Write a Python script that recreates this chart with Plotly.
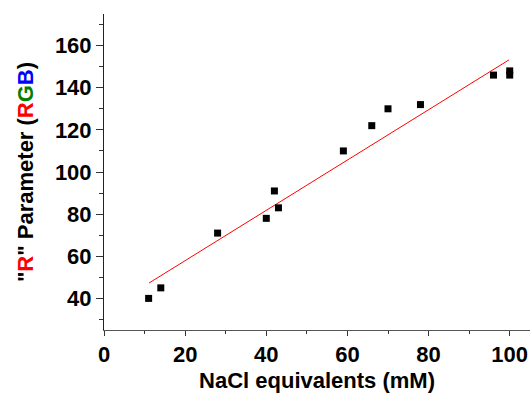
import plotly.graph_objects as go

nacl_mM = [11, 14, 28, 40, 42, 43, 59, 66, 70, 78, 96, 100, 100]
r_param = [40, 45, 71, 78, 91, 83, 110, 122, 130, 132, 146, 148, 146]

fit_x = [11.1, 99.8]
fit_y = [47.3, 153.2]

x_ticks = [0, 20, 40, 60, 80, 100]
y_ticks = [40, 60, 80, 100, 120, 140, 160]

font_family = "Liberation Sans, Arial, sans-serif"

fig = go.Figure()
fig.add_trace(go.Scatter(x=fit_x, y=fit_y, mode="lines",
                         line=dict(color="#ff0000", width=1), showlegend=False))
fig.add_trace(go.Scatter(x=nacl_mM, y=r_param, mode="markers",
                         marker=dict(symbol="square", size=7, color="black"),
                         showlegend=False))

ytitle = ('"<span style="color:#ff0000">R</span>" Parameter ('
          '<span style="color:#ff0000">R</span>'
          '<span style="color:#008000">G</span>'
          '<span style="color:#0000ff">B</span>)')

fig.update_layout(
    width=532, height=393,
    margin=dict(l=104, r=2, t=14, b=63),
    paper_bgcolor="white", plot_bgcolor="white",
    font=dict(family=font_family, size=22, color="black", weight="bold"),
    xaxis=dict(range=[0, 105], tickvals=x_ticks, ticks="outside", ticklen=5,
               tickwidth=1, tickcolor="#333", showline=True, linecolor="#555",
               linewidth=1, showgrid=False, zeroline=False, automargin=False,
               minor=dict(dtick=10, tick0=0, ticks="outside", ticklen=3, tickcolor="#333"),
               tickfont=dict(size=22, weight="bold"),
               title=dict(text="NaCl equivalents (mM)", font=dict(size=22, weight="bold"), standoff=8)),
    yaxis=dict(range=[25, 175], tickvals=y_ticks, ticks="outside", ticklen=7,
               tickwidth=1, tickcolor="#333", showline=True, linecolor="#222",
               linewidth=1, showgrid=False, zeroline=False, automargin=False,
               minor=dict(dtick=10, tick0=30, ticks="outside", ticklen=4, tickcolor="#333"),
               tickfont=dict(size=22, weight="bold"),
               title=dict(text=ytitle, font=dict(size=22, weight="bold"), standoff=15)),
)

fig.write_html("out.html", config={"displayModeBar": False},
               post_script="document.body.style.margin='0';document.body.style.overflow='hidden';")
